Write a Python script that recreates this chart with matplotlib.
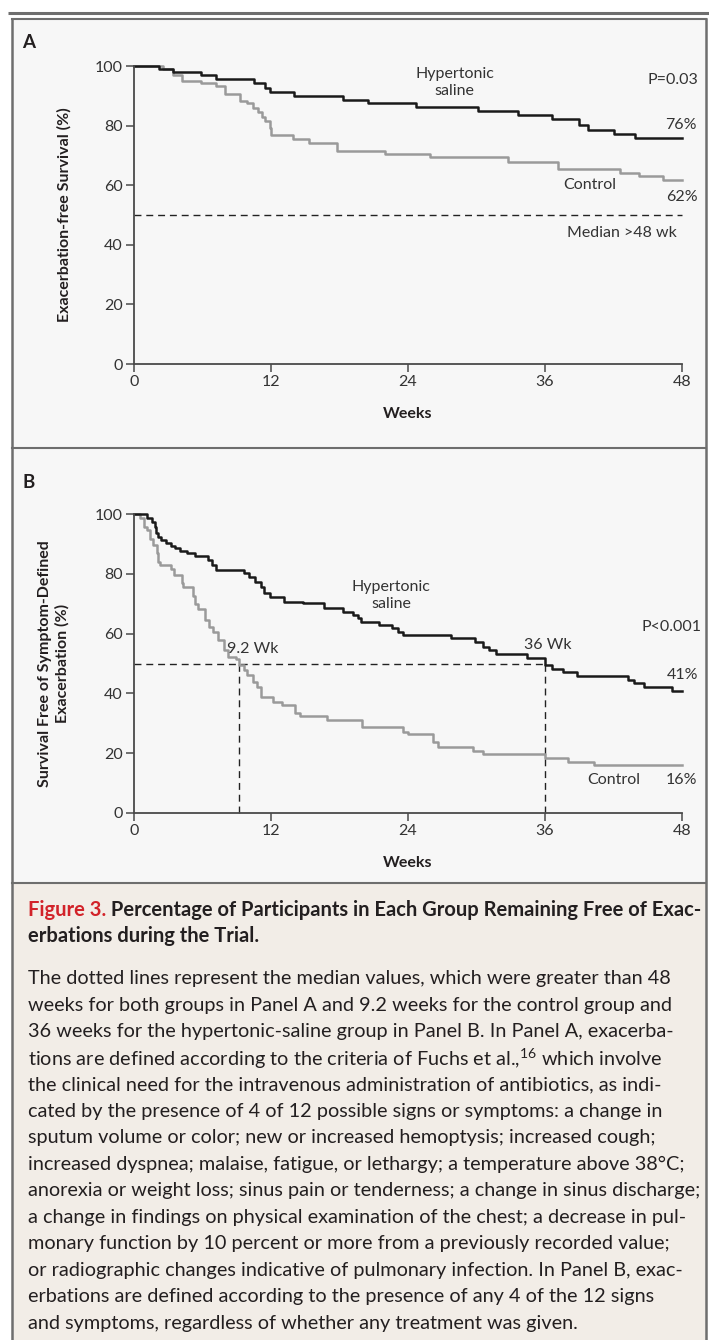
import numpy as np
import matplotlib
matplotlib.use("Agg")
import matplotlib.pyplot as plt
from matplotlib.patches import Rectangle

plt.rcParams['font.family'] = ['Lato', 'DejaVu Sans']
plt.rcParams['mathtext.fontset'] = 'custom'
plt.rcParams['mathtext.rm'] = 'Lato'

# ---- data (weeks, % event-free) ----
WEEK_TICKS = [0, 12, 24, 36, 48]
PCT_TICKS = [0, 20, 40, 60, 80, 100]

A_HYP_T = [0, 2.2, 3.4, 5.9, 7.2, 10.5, 11.5, 11.9, 14.0, 18.3, 20.5, 24.7,
           30.1, 33.6, 36.6, 39.0, 39.8, 42.0, 43.9, 48]
A_HYP_S = [100, 99, 98, 97, 95.5, 94.2, 92.6, 91.3, 90.0, 88.6, 87.5, 86.1,
           84.9, 83.4, 82.2, 80.3, 78.5, 77.2, 75.8, 75.8]
A_CTL_T = [0, 2.5, 3.4, 4.2, 5.9, 7.2, 8.0, 9.3, 9.9, 10.4, 10.9, 11.2, 11.5,
           11.9, 12.0, 13.95, 15.3, 17.8, 22.0, 25.9, 32.8, 37.1, 42.6, 44.2,
           46.3, 48]
A_CTL_S = [100, 99, 97, 95.0, 94.2, 93.3, 90.6, 88.4, 87.5, 85.8, 84.7, 83.0,
           81.7, 79.1, 76.8, 75.4, 74.1, 71.6, 70.5, 69.4, 67.9, 65.4, 64.2,
           63.1, 61.7, 61.7]

B_HYP_T = [0, 1.1, 1.6, 1.8, 1.9, 2.1, 2.4, 2.8, 3.2, 3.6, 4.0, 4.6, 5.3, 6.5,
           6.8, 7.2, 9.6, 10.1, 10.6, 11.1, 11.4, 11.9, 13.1, 14.8, 16.6, 18.3,
           19.2, 19.6, 19.9, 21.5, 22.6, 23.1, 23.6, 27.8, 29.9, 30.6, 31.1,
           31.7, 34.4, 36.0, 36.6, 37.6, 38.8, 43.3, 43.8, 44.7, 47.1, 48]
B_HYP_S = [100, 98.7, 97.4, 95.7, 93.6, 92.3, 91.3, 90.4, 89.3, 88.5, 87.6,
           87.1, 86.0, 84.6, 83.0, 81.3, 80.2, 79.0, 77.4, 75.7, 73.5, 72.3,
           70.7, 70.1, 68.4, 67.3, 66.2, 65.1, 64.0, 62.9, 61.8, 60.7, 59.5,
           58.4, 57.2, 55.6, 54.5, 53.1, 51.7, 49.5, 48.3, 47.0, 45.8, 44.5,
           43.4, 42.2, 40.9, 40.9]
B_CTL_T = [0, 0.5, 0.85, 1.1, 1.4, 1.7, 2.0, 2.1, 2.3, 3.2, 3.5, 4.2, 4.3, 5.2,
           5.3, 5.6, 6.2, 6.6, 6.9, 7.4, 7.9, 8.2, 8.9, 9.2, 9.6, 9.9, 10.4,
           10.8, 11.1, 12.2, 13.0, 14.1, 14.5, 16.9, 20.0, 23.6, 24.0, 26.2,
           26.6, 29.7, 30.6, 36.0, 38.0, 40.3, 48]
B_CTL_S = [100, 98.6, 95.7, 94.6, 91.8, 89.6, 86.8, 84.0, 83.0, 81.5, 79.5,
           77.0, 75.6, 72.5, 70.0, 68.2, 64.5, 62.3, 60.7, 57.9, 54.5, 52.3,
           51.4, 49.5, 47.8, 46.2, 43.9, 42.2, 38.9, 37.2, 36.1, 33.3, 32.4,
           31.1, 28.9, 27.2, 26.4, 23.8, 22.2, 20.8, 19.7, 18.5, 17.2, 16.1,
           16.1]

A_MEDIAN = 50
B_MEDIAN_CTL = 9.2
B_MEDIAN_HYP = 36

CAPTION_TITLE = [("Figure 3.", " Percentage of Participants in Each Group Remaining Free of Exac-"),
                 ("", "erbations during the Trial.")]
CAPTION_BODY = [
    "The dotted lines represent the median values, which were greater than 48",
    "weeks for both groups in Panel A and 9.2 weeks for the control group and",
    "36 weeks for the hypertonic-saline group in Panel B. In Panel A, exacerba-",
    "tions are defined according to the criteria of Fuchs et al.,$^{16}$ which involve",
    "the clinical need for the intravenous administration of antibiotics, as indi-",
    "cated by the presence of 4 of 12 possible signs or symptoms: a change in",
    "sputum volume or color; new or increased hemoptysis; increased cough;",
    "increased dyspnea; malaise, fatigue, or lethargy; a temperature above 38\u00b0C;",
    "anorexia or weight loss; sinus pain or tenderness; a change in sinus discharge;",
    "a change in findings on physical examination of the chest; a decrease in pul-",
    "monary function by 10 percent or more from a previously recorded value;",
    "or radiographic changes indicative of pulmonary infection. In Panel B, exac-",
    "erbations are defined according to the presence of any 4 of the 12 signs",
    "and symptoms, regardless of whether any treatment was given.",
]

W, H = 709, 1340
INK = "#231f20"
FRAME = "#6e6e6e"
HYP_C = "#1a1a1a"
CTL_C = "#9a9a9a"

fig = plt.figure(figsize=(W / 100, H / 100), dpi=100)

# background, frames and caption in pixel coordinates
bg = fig.add_axes([0, 0, 1, 1], zorder=-1)
bg.set_xlim(0, W)
bg.set_ylim(H, 0)
bg.axis("off")
bg.add_patch(Rectangle((12, 19), 694, 864, facecolor="#f7f7f7", edgecolor="none"))
bg.add_patch(Rectangle((12, 883), 694, H - 883, facecolor="#f2ede7", edgecolor="none"))
bg.plot([8, W], [13, 13], color=FRAME, lw=2.2, solid_capstyle="butt")
bg.plot([12, 706], [19, 19], color=FRAME, lw=1.5)
bg.plot([12, 706], [448, 448], color=FRAME, lw=1.5)
bg.plot([12, 706], [883, 883], color=FRAME, lw=1.5)
bg.plot([12, 12], [19, H], color=FRAME, lw=1.8)
bg.plot([706, 706], [19, H], color=FRAME, lw=1.8)


def px_axes(top, bottom, left=134, right=682):
    return fig.add_axes([left / W, 1 - bottom / H, (right - left) / W, (bottom - top) / H])


def style(ax):
    ax.set_facecolor("none")
    ax.set_xlim(0, 48)
    ax.set_ylim(0, 100)
    ax.set_xticks(WEEK_TICKS)
    ax.set_yticks(PCT_TICKS)
    for s in ["top", "right"]:
        ax.spines[s].set_visible(False)
    for s in ["left", "bottom"]:
        ax.spines[s].set_color("#4a4a4a")
        ax.spines[s].set_linewidth(1.3)
    ax.tick_params(direction="out", length=5.5, width=1.1, color="#4a4a4a",
                   labelsize=11.5, labelcolor="#333333", pad=2.5)
    ax.set_xlabel("Weeks", fontsize=11.5, fontweight="bold", color=INK, labelpad=13)


lab = dict(fontsize=11.5, color="#333333")
dash = dict(color="#222222", lw=1.0, ls=(0, (5, 3.5)), clip_on=False)

# ---- Panel A ----
axA = px_axes(66, 364)
style(axA)
axA.axhline(A_MEDIAN, xmin=0, xmax=1, **dash)
axA.step(A_CTL_T, A_CTL_S, where="post", color=CTL_C, lw=1.8, clip_on=False)
axA.step(A_HYP_T, A_HYP_S, where="post", color=HYP_C, lw=1.8, clip_on=False)
axA.text(-0.128, 0.5, "Exacerbation-free Survival (%)", transform=axA.transAxes,
         rotation=90, ha="center", va="center", fontsize=11.5, fontweight="bold", color=INK)
axA.text(28.1, 94.5, "Hypertonic\nsaline", ha="center", va="center", linespacing=1.3, **lab)
axA.text(49.4, 95.3, "P=0.03", ha="right", va="center", clip_on=False, **lab)
axA.text(49.3, 80.2, "76%", ha="right", va="center", clip_on=False, **lab)
axA.text(39.9, 60, "Control", ha="center", va="center", **lab)
axA.text(49.4, 56, "62%", ha="right", va="center", clip_on=False, **lab)
axA.text(42.7, 44, "Median >48 wk", ha="center", va="center", **lab)

# ---- Panel B ----
axB = px_axes(514, 813)
style(axB)
axB.plot([0, B_MEDIAN_HYP], [50, 50], **dash)
axB.plot([B_MEDIAN_CTL, B_MEDIAN_CTL], [0, 50], **dash)
axB.plot([B_MEDIAN_HYP, B_MEDIAN_HYP], [0, 50], **dash)
axB.step(B_CTL_T, B_CTL_S, where="post", color=CTL_C, lw=1.8, clip_on=False)
axB.step(B_HYP_T, B_HYP_S, where="post", color=HYP_C, lw=1.8, clip_on=False)
axB.text(-0.146, 0.5, "Survival Free of Symptom-Defined\nExacerbation (%)",
         transform=axB.transAxes, rotation=90, ha="center", va="center",
         fontsize=11.5, fontweight="bold", color=INK, linespacing=1.25)
axB.text(22.5, 72.8, "Hypertonic\nsaline", ha="center", va="center", linespacing=1.3, **lab)
axB.text(49.7, 62.2, "P<0.001", ha="right", va="center", clip_on=False, **lab)
axB.text(36.2, 56.2, "36 Wk", ha="center", va="center", **lab)
axB.text(10.4, 54.8, "9.2 Wk", ha="center", va="center", **lab)
axB.text(49.4, 46.2, "41%", ha="right", va="center", clip_on=False, **lab)
axB.text(42.0, 11, "Control", ha="center", va="center", **lab)
axB.text(49.3, 11, "16%", ha="right", va="center", clip_on=False, **lab)

bg.text(22, 43, "A", fontsize=13.5, fontweight="bold", color=INK, ha="left", va="center")
bg.text(22, 483, "B", fontsize=13.5, fontweight="bold", color=INK, ha="left", va="center")

# ---- caption ----
renderer = fig.canvas.get_renderer()
X0 = 28
TARGET = 672.0

probe = bg.text(0, 0, CAPTION_BODY[8], fontsize=12)
body_size = 12 * TARGET / probe.get_window_extent(renderer).width
probe.remove()
probe = bg.text(0, 0, "".join(CAPTION_TITLE[0]), fontsize=12, fontweight="bold")
title_size = 12 * TARGET / probe.get_window_extent(renderer).width
probe.remove()

LINE = 26.5
y = 910
for red, rest in CAPTION_TITLE:
    x = X0
    if red:
        t = bg.text(x, y, red, fontsize=title_size, fontweight="bold",
                    color="#d2232a", ha="left", va="center")
        x += t.get_window_extent(renderer).width
    bg.text(x, y, rest, fontsize=title_size, fontweight="bold", color=INK,
            ha="left", va="center")
    y += LINE
y += LINE * 0.6
for line in CAPTION_BODY:
    bg.text(X0, y, line, fontsize=body_size, color=INK, ha="left", va="center")
    y += LINE

fig.savefig("out.png", dpi=100)
